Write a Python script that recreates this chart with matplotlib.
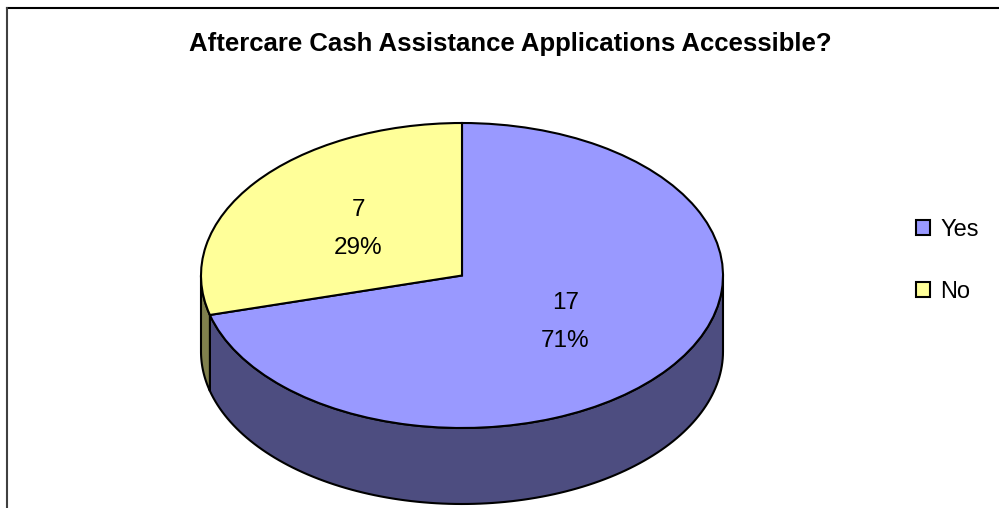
"""Pie chart: aftercare cash assistance applications accessible."""

import numpy as np
import matplotlib
matplotlib.use("Agg")
import matplotlib.pyplot as plt
from matplotlib.lines import Line2D
from matplotlib.patches import Polygon

plt.rcParams["font.family"] = ["Liberation Sans", "DejaVu Sans"]

# ── data ────────────────────────────────────────────────
answers = ["Yes", "No"]
counts = [17, 7]
top_colors = ["#9999FF", "#FFFF99"]
side_colors = ["#4D4D80", "#80804D"]
title = "Aftercare Cash Assistance Applications Accessible?"

W, H = 999, 508
fig = plt.figure(figsize=(W / 100, H / 100), dpi=100)

# pie geometry in pixels: centre, radii and wall depth
cx, cy, rx, ry, depth = 462, 275.5, 261, 152.5, 76
d = depth / ry
pad = 0.05

ax = fig.add_axes([
    (cx - rx * (1 + pad)) / W,
    (H - (cy + ry * (1 + d + pad))) / H,
    2 * rx * (1 + pad) / W,
    ry * (2 + d + 2 * pad) / H,
])

total = sum(counts)


def fmt(pct):
    n = int(round(pct * total / 100))
    return f"{n}\n{pct:.0f}%"


wedges, _, pcts = ax.pie(
    counts, colors=top_colors, startangle=90, counterclock=False,
    autopct=fmt, pctdistance=0.5,
    wedgeprops=dict(edgecolor="black", linewidth=1.5),
    textprops=dict(fontsize=17.5, linespacing=1.9),
)
for w in wedges:
    w.set_zorder(3)
for t in pcts:
    t.set_zorder(4)

# pie() forces a round disc; squash it into the tilted ellipse
ax.set_aspect("auto")
ax.set_xlim(-1 - pad, 1 + pad)
ax.set_ylim(-1 - d - pad, 1 + pad)
ax.axis("off")

# front wall of the disc: only the lower half (-180..0 deg) is visible
start = 90.0
for n, col in zip(counts, side_colors):
    span = 360.0 * n / total
    a_hi, a_lo = start, start - span
    start = a_lo
    lo, hi = max(a_lo, -180.0), min(a_hi, 0.0)
    if hi <= lo:
        lo2, hi2 = max(a_lo + 360, -180.0), min(a_hi + 360, 0.0)
        if hi2 <= lo2:
            continue
        lo, hi = lo2, hi2
    t = np.radians(np.linspace(lo, hi, 120))
    top = np.column_stack([np.cos(t), np.sin(t)])
    bot = np.column_stack([np.cos(t), np.sin(t) - d])[::-1]
    ax.add_patch(Polygon(np.vstack([top, bot]), closed=True, facecolor=col,
                         edgecolor="black", linewidth=1.5, zorder=2))

# title
fig.text(510 / W, 1 - 44 / H, title, ha="center", va="center",
         fontsize=18.5, fontweight="bold")

# legend
fig.legend(wedges, answers, loc="center left",
           bbox_to_anchor=(904 / W, 1 - 261 / H), frameon=False,
           fontsize=17, handlelength=0.6, handleheight=0.6,
           handletextpad=0.45, labelspacing=1.7, borderpad=0)

# chart area frame (top and left edges)
fig.add_artist(Line2D([7 / W, 1], [1 - 8 / H, 1 - 8 / H], color="black",
                      linewidth=1.5, transform=fig.transFigure))
fig.add_artist(Line2D([7 / W, 7 / W], [0, 1 - 8 / H], color="#404040",
                      linewidth=1.5, transform=fig.transFigure))

fig.savefig("out.png", dpi=100)
